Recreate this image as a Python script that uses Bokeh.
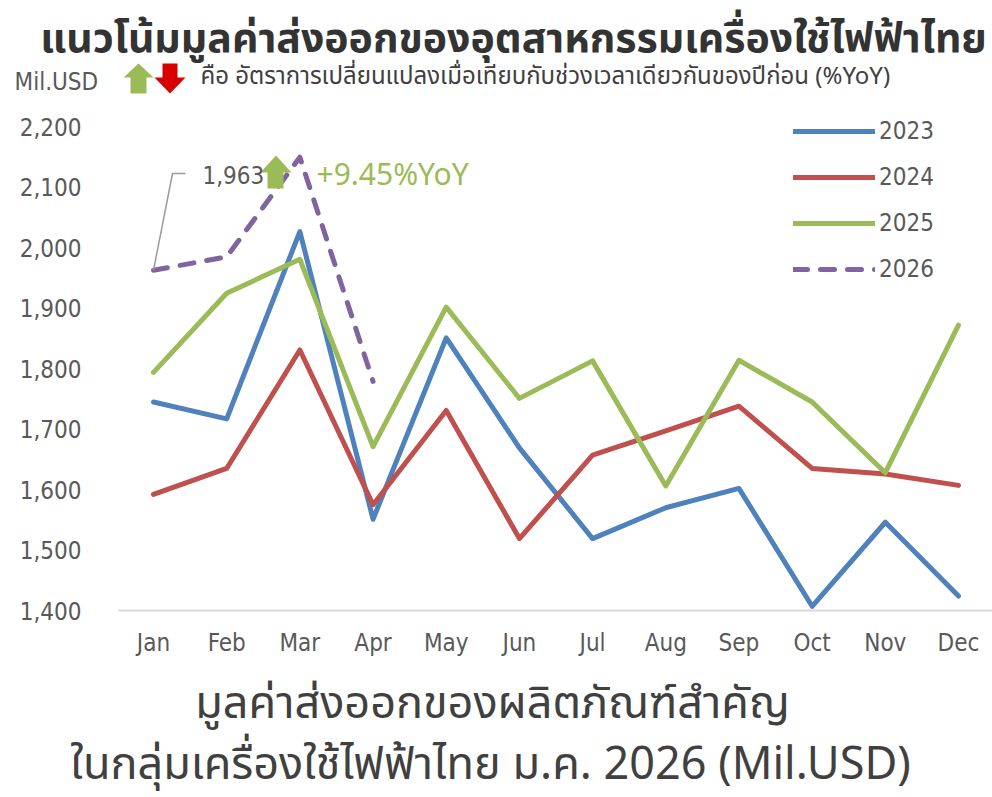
from bokeh.plotting import figure
from bokeh.layouts import column
from bokeh.models import FixedTicker, NumeralTickFormatter, Label, Legend, LegendItem, Range1d
from bokeh.embed import file_html
from bokeh.resources import INLINE

# ---------------- data ----------------
months = ["Jan", "Feb", "Mar", "Apr", "May", "Jun", "Jul", "Aug", "Sep", "Oct", "Nov", "Dec"]
x_idx = list(range(1, 13))
y2023 = [1745, 1717, 2027, 1551, 1851, 1669, 1519, 1570, 1602, 1407, 1546, 1424]
y2024 = [1592, 1635, 1831, 1575, 1731, 1519, 1657, 1697, 1738, 1635, 1626, 1607]
y2025 = [1794, 1925, 1981, 1671, 1902, 1751, 1813, 1606, 1814, 1745, 1628, 1872]
y2026 = [1963, 1985, 2150, 1779]
y_ticks = [1400, 1500, 1600, 1700, 1800, 1900, 2000, 2100, 2200]
series_names = ["2023", "2024", "2025", "2026"]

title_text = "แนวโน้มมูลค่าส่งออกของอุตสาหกรรมเครื่องใช้ไฟฟ้าไทย"
unit_text = "Mil.USD"
sub_text = "คือ อัตราการเปลี่ยนแปลงเมื่อเทียบกับช่วงเวลาเดียวกันของปีก่อน (%YoY)"
callout_text = "1,963"
yoy_text = "+9.45%YoY"
bottom1 = "มูลค่าส่งออกของผลิตภัณฑ์สำคัญ"
bottom2 = "ในกลุ่มเครื่องใช้ไฟฟ้าไทย ม.ค. 2026 (Mil.USD)"

# ---------------- styling ----------------
C_BLUE, C_RED, C_GREEN, C_PURPLE = "#4F81BD", "#C0504D", "#9BBB59", "#8064A2"
NARROW = "Liberation Sans Narrow, DejaVu Sans Condensed, Liberation Sans"
THAI = "Noto Sans Thai, Noto Sans"
GRAY = "#595959"
TXT = "#404040"

W = 992
H_TOP, H_MID, H_BOT = 110, 550, 137
MID_TOP = H_TOP                      # page y of chart figure top

FRAME_L = 118                        # page x of frame left
FRAME_B = 610                        # page y of frame bottom (value 1400)
PX_JAN, PX_DEC = 153.0, 958.0
PX_PER_M = (PX_DEC - PX_JAN) / 11
PX_PER_U = 0.6044

x_start = 1 - (PX_JAN - FRAME_L) / PX_PER_M
x_end = 12 + (W - PX_DEC) / PX_PER_M
y_start = 1400
y_end = 1400 + (FRAME_B - MID_TOP) / PX_PER_U

def dx(px):
    return 1 + (px - PX_JAN) / PX_PER_M

def dy(py):
    return 1400 + (FRAME_B - py) / PX_PER_U

def bare(h):
    f = figure(width=W, height=h, output_backend="svg", toolbar_location=None,
               x_range=Range1d(0, W), y_range=Range1d(h, 0),
               x_axis_type=None, y_axis_type=None, min_border=0)
    f.outline_line_color = None
    f.grid.visible = False
    f.frame_align = False
    return f

def up_arrow(xl, xr, sl, sr, top, mid, bot):
    return [xl, (xl + xr) / 2, xr, sr, sr, sl, sl], [mid, top, mid, mid, bot, bot, mid]

# ---------------- top: titles ----------------
top = bare(H_TOP)
top.add_layout(Label(x=513, y=38, text=title_text, text_font=THAI, text_font_size="41px",
                     text_font_style="bold", text_color="#333333", text_baseline="middle", text_align="center"))
top.add_layout(Label(x=14, y=81, text=unit_text, text_font=NARROW, text_font_size="24px",
                     text_color=GRAY, text_baseline="middle", text_align="left"))
top.add_layout(Label(x=200, y=76, text=sub_text, text_font=THAI, text_font_size="24px",
                     text_color=TXT, text_baseline="middle", text_align="left"))
gx, gy = up_arrow(123, 153, 130, 146, 63, 77, 93)
top.patch(gx, gy, fill_color="#9BBB59", line_color=None)
rx = [154, 169.5, 185, 177, 177, 162, 162]
ry = [77, 93, 77, 77, 63, 63, 77]
top.patch(rx, ry, fill_color="#D90000", line_color=None)

# ---------------- chart ----------------
p = figure(width=W, height=H_MID, output_backend="svg", toolbar_location=None,
           x_range=Range1d(x_start, x_end), y_range=Range1d(y_start, y_end),
           min_border_left=FRAME_L, min_border_right=0, min_border_top=0,
           min_border_bottom=H_MID - (FRAME_B - MID_TOP))
p.outline_line_color = None
p.grid.visible = False
p.frame_align = False

p.yaxis.ticker = FixedTicker(ticks=y_ticks)
p.yaxis.formatter = NumeralTickFormatter(format="0,0")
p.yaxis.axis_line_color = None
p.yaxis.major_tick_line_color = None
p.yaxis.minor_tick_line_color = None
p.yaxis.major_label_standoff = 31
p.yaxis.major_label_text_font = NARROW
p.yaxis.major_label_text_font_size = "24px"
p.yaxis.major_label_text_color = GRAY

p.xaxis.ticker = FixedTicker(ticks=x_idx)
p.xaxis.major_label_overrides = {i: m for i, m in zip(x_idx, months)}
p.xaxis.axis_line_color = "#D9D9D9"
p.xaxis.axis_line_width = 2
p.xaxis.major_tick_line_color = None
p.xaxis.minor_tick_line_color = None
p.xaxis.major_label_standoff = 12
p.xaxis.major_label_text_font = NARROW
p.xaxis.major_label_text_font_size = "24px"
p.xaxis.major_label_text_color = GRAY

r23 = p.line(x_idx, y2023, line_color=C_BLUE, line_width=5, line_join="round", line_cap="round")
r24 = p.line(x_idx, y2024, line_color=C_RED, line_width=5, line_join="round", line_cap="round")
r25 = p.line(x_idx, y2025, line_color=C_GREEN, line_width=5, line_join="round", line_cap="round")
r26 = p.line(x_idx[:len(y2026)], y2026, line_color=C_PURPLE, line_width=5, line_dash="14 13",
             line_join="round", line_cap="round")

legend = Legend(items=[LegendItem(label=n, renderers=[r]) for n, r in zip(series_names, [r23, r24, r25, r26])],
                location=(793 - FRAME_L, 326), padding=0, margin=0, spacing=16,
                glyph_width=82, glyph_height=30, label_height=30, label_standoff=4,
                label_text_font=NARROW, label_text_font_size="24px", label_text_color=GRAY,
                border_line_color=None, background_fill_alpha=0)
p.add_layout(legend)

# callout for Jan 2026
p.line([dx(185), dx(172), 1], [dy(173), dy(173), y2026[0]], line_color="#9A9A9A", line_width=1.5)
p.add_layout(Label(x=dx(202), y=dy(174), text=callout_text, text_font=NARROW, text_font_size="24px",
                   text_color=GRAY, text_baseline="middle", text_align="left"))
ax, ay = up_arrow(260, 291, 267, 283, 155, 172, 188)
p.patch([dx(v) for v in ax], [dy(v) for v in ay], fill_color="#9BBB59", line_color=None)
p.add_layout(Label(x=dx(316), y=dy(173), text=yoy_text, text_font="Noto Sans", text_font_size="30px",
                   text_color="#9BBB59", text_baseline="middle", text_align="left"))

# ---------------- bottom: caption ----------------
bot = bare(H_BOT)
BOT_TOP = H_TOP + H_MID
bot.add_layout(Label(x=492, y=703 - BOT_TOP, text=bottom1, text_font=THAI, text_font_size="45px",
                     text_color=TXT, text_baseline="middle", text_align="center"))
bot.add_layout(Label(x=490, y=764 - BOT_TOP, text=bottom2, text_font=THAI, text_font_size="45px",
                     text_color=TXT, text_baseline="middle", text_align="center"))

layout = column(top, p, bot, spacing=0)
open("out.html", "w").write(file_html(layout, INLINE))
